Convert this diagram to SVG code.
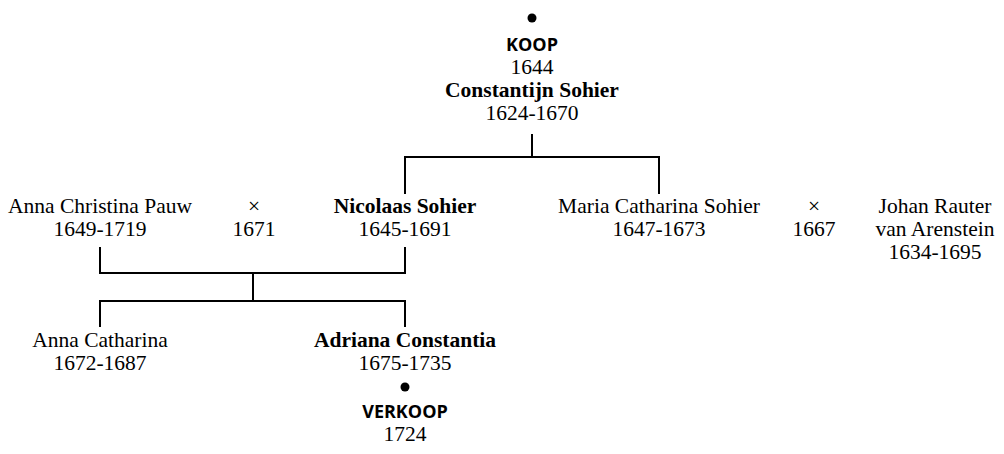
<svg xmlns="http://www.w3.org/2000/svg" width="1004" height="454" viewBox="0 0 1004 454">
<style>
text{font-family:"Liberation Serif","Times New Roman",serif;font-size:21.5px;fill:#000;text-anchor:middle}
.b{font-weight:bold}
.s{font-family:"Open Sans","Liberation Sans",sans-serif;font-weight:bold;font-size:18px}
.c line{stroke:#000;stroke-width:2;fill:none}
</style>
<rect width="1004" height="454" fill="#fff"/>
<g class="c" id="connectors">
<line x1="532" y1="134" x2="532" y2="157"/>
<line x1="404" y1="157" x2="660" y2="157"/>
<line x1="405" y1="156" x2="405" y2="194"/>
<line x1="659" y1="156" x2="659" y2="194"/>
<line x1="100" y1="247" x2="100" y2="274"/>
<line x1="405" y1="247" x2="405" y2="274"/>
<line x1="99" y1="273" x2="406" y2="273"/>
<line x1="253" y1="273" x2="253" y2="301"/>
<line x1="99" y1="301" x2="406" y2="301"/>
<line x1="100" y1="300" x2="100" y2="327"/>
<line x1="405" y1="300" x2="405" y2="327"/>
</g>
<g id="constantijn">
<circle cx="532" cy="18" r="4.5" fill="#000"/>
<text class="s" x="532" y="51">KOOP</text>
<text x="532" y="74">1644</text>
<text class="b" x="532" y="97">Constantijn Sohier</text>
<text x="532" y="120">1624-1670</text>
</g>
<g id="anna-christina">
<text x="100" y="213">Anna Christina Pauw</text>
<text x="100" y="236">1649-1719</text>
</g>
<g id="marriage1">
<text x="254" y="213">×</text>
<text x="254" y="236">1671</text>
</g>
<g id="nicolaas">
<text class="b" x="405" y="213">Nicolaas Sohier</text>
<text x="405" y="236">1645-1691</text>
</g>
<g id="maria">
<text x="659" y="213">Maria Catharina Sohier</text>
<text x="659" y="236">1647-1673</text>
</g>
<g id="marriage2">
<text x="814" y="213">×</text>
<text x="814" y="236">1667</text>
</g>
<g id="johan">
<text x="935" y="213">Johan Rauter</text>
<text x="935" y="236">van Arenstein</text>
<text x="935" y="259">1634-1695</text>
</g>
<g id="anna-catharina">
<text x="100" y="347">Anna Catharina</text>
<text x="100" y="370">1672-1687</text>
</g>
<g id="adriana">
<text class="b" x="405" y="347">Adriana Constantia</text>
<text x="405" y="370">1675-1735</text>
<circle cx="405" cy="387" r="4.5" fill="#000"/>
<text class="s" x="405" y="418">VERKOOP</text>
<text x="405" y="441">1724</text>
</g>
</svg>
